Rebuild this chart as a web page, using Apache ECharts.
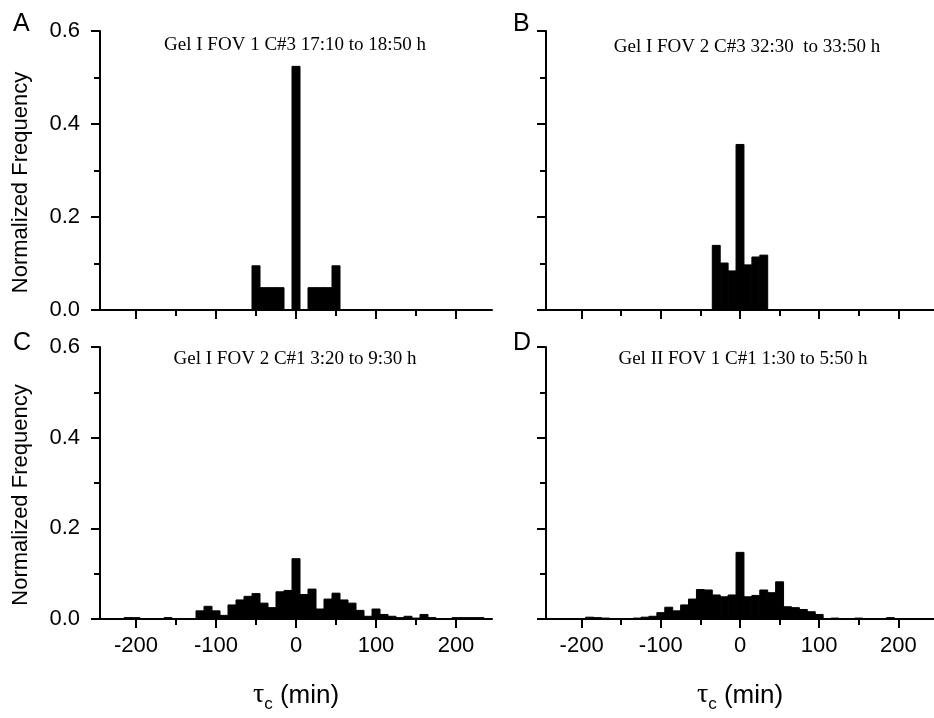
<!DOCTYPE html>
<html>
<head>
<meta charset="utf-8">
<script src="https://cdn.jsdelivr.net/npm/echarts@6/dist/echarts.min.js"></script>
<style>html,body{margin:0;padding:0;background:#fff}#chart{width:934px;height:718px}</style>
</head>
<body>
<div id="chart"></div>
<script>
// ---- data (bin centres in minutes, normalized frequency) ----
const aCenters = [-50, -40, -30, -20, 0, 20, 30, 40, 50];
const aValues  = [0.095, 0.048, 0.048, 0.048, 0.524, 0.048, 0.048, 0.048, 0.095];

const bCenters = [-30, -20, -10, 0, 10, 20, 30];
const bValues  = [0.139, 0.101, 0.084, 0.356, 0.097, 0.114, 0.118];

const cCenters = [-210, -200, -160, -120, -110, -100, -90, -80, -70, -60, -50, -40, -30, -20, -10, 0,
                  10, 20, 30, 40, 50, 60, 70, 80, 90, 100, 110, 120, 130, 140, 150, 160, 170, 200, 210, 220, 230];
const cValues  = [0.003, 0.003, 0.003, 0.018, 0.028, 0.018, 0.008, 0.031, 0.042, 0.050, 0.056, 0.035, 0.025, 0.060, 0.063, 0.133,
                  0.054, 0.066, 0.022, 0.044, 0.057, 0.042, 0.035, 0.019, 0.006, 0.022, 0.010, 0.006, 0.003, 0.006, 0.002, 0.010, 0.003, 0.003, 0.003, 0.003, 0.003];

const dCenters = [-190, -180, -170, -130, -120, -110, -100, -90, -80, -70, -60, -50, -40, -30, -20, -10, 0,
                  10, 20, 30, 40, 50, 60, 70, 80, 90, 100, 120, 150, 190];
const dValues  = [0.004, 0.003, 0.002, 0.002, 0.004, 0.006, 0.014, 0.026, 0.018, 0.031, 0.044, 0.065, 0.064, 0.053, 0.049, 0.053, 0.147,
                  0.049, 0.052, 0.064, 0.058, 0.082, 0.027, 0.025, 0.021, 0.016, 0.010, 0.002, 0.002, 0.003];

const binWidth = 10;
const xMajorTicks = [-200, -100, 0, 100, 200];
const xMinorTicks = [-150, -50, 50, 150];

const panelTitles = [
  'Gel I FOV 1 C#3 17:10 to 18:50 h',
  'Gel I FOV 2 C#3 32:30  to 33:50 h',
  'Gel I FOV 2 C#1 3:20 to 9:30 h',
  'Gel II FOV 1 C#1 1:30 to 5:50 h'
];
const panelLetters = ['A', 'B', 'C', 'D'];

// ---- layout ----
const SANS = "'Liberation Sans', Arial, sans-serif";
const SERIF = "'Liberation Serif', 'Times New Roman', serif";
const grids = [
  {left: 100, top: 31, width: 392, height: 279},
  {left: 546, top: 31, width: 392, height: 279},
  {left: 100, top: 347, width: 392, height: 272},
  {left: 546, top: 347, width: 392, height: 272}
];
const showYLabels = [true, false, true, false];
const showXLabels = [false, false, true, true];
const seriesData = [
  [aCenters, aValues], [bCenters, bValues], [cCenters, cValues], [dCenters, dValues]
];

const xAxes = [], yAxes = [], series = [];
grids.forEach((g, i) => {
  xAxes.push({
    gridIndex: i, type: 'value', min: -245, max: 245, position: 'bottom',
    axisLine: {show: true, onZero: false, lineStyle: {color: '#000', width: 2}},
    axisTick: {show: true, customValues: xMajorTicks, length: 9, inside: false, lineStyle: {color: '#000', width: 2}},
    axisLabel: {show: showXLabels[i], customValues: xMajorTicks, color: '#000', fontSize: 22, fontFamily: SANS, margin: 16},
    splitLine: {show: false},
    name: showXLabels[i] ? '{t|τ}{s|c}{m| (min)}' : '',
    nameLocation: 'middle', nameGap: 60,
    nameTextStyle: {
      color: '#000',
      rich: {
        t: {fontFamily: SERIF, fontSize: 28, color: '#000', verticalAlign: 'bottom', lineHeight: 30},
        s: {fontFamily: SANS, fontSize: 17, color: '#000', verticalAlign: 'bottom', lineHeight: 13, padding: [0, 0, -4, 0]},
        m: {fontFamily: SANS, fontSize: 26, color: '#000', verticalAlign: 'bottom', lineHeight: 30}
      }
    }
  });
  xAxes.push({
    gridIndex: i, type: 'value', min: -245, max: 245, position: 'bottom',
    axisLine: {show: false, onZero: false},
    axisTick: {show: true, customValues: xMinorTicks, length: 6, lineStyle: {color: '#000', width: 2}},
    axisLabel: {show: false},
    splitLine: {show: false}
  });
  yAxes.push({
    gridIndex: i, type: 'value', min: 0, max: 0.6, interval: 0.2,
    axisLine: {show: true, onZero: false, lineStyle: {color: '#000', width: 2}},
    axisTick: {show: true, length: 9, lineStyle: {color: '#000', width: 2}},
    minorTick: {show: true, splitNumber: 2, length: 6, lineStyle: {color: '#000', width: 2}},
    axisLabel: {show: showYLabels[i], color: '#000', fontSize: 22, fontFamily: SANS, margin: 20,
                formatter: v => v.toFixed(1)},
    splitLine: {show: false},
    minorSplitLine: {show: false},
    name: showYLabels[i] ? 'Normalized Frequency' : '',
    nameLocation: 'middle', nameGap: 68,
    nameTextStyle: {color: '#000', fontSize: 22, fontFamily: SANS, padding: [0, 24, 0, 0]}
  });
  const [cs, vs] = seriesData[i];
  series.push({
    type: 'custom',
    xAxisIndex: i * 2, yAxisIndex: i,
    data: cs.map((c, k) => [c, vs[k]]),
    encode: {x: 0, y: 1},
    renderItem: function (params, api) {
      const c = api.value(0), v = api.value(1);
      const p0 = api.coord([c - binWidth / 2, 0]);
      const p1 = api.coord([c + binWidth / 2, v]);
      return {
        type: 'rect',
        shape: {x: p0[0], y: p1[1], width: p1[0] - p0[0], height: p0[1] - p1[1]},
        style: {fill: '#000', stroke: '#000', lineWidth: 1}
      };
    },
    silent: true
  });
});

const titleCenters = [[290, 31], [742, 33], [290, 345], [738, 345]];
const letterPos = [[13, 12], [513, 12], [13, 331], [513, 331]];
const titles = [];
panelTitles.forEach((t, i) => {
  titles.push({
    text: t, left: titleCenters[i][0], top: titleCenters[i][1], textAlign: 'center',
    textStyle: {fontFamily: SERIF, fontSize: 19, fontWeight: 'normal', color: '#000'}
  });
});
panelLetters.forEach((t, i) => {
  titles.push({
    text: t, left: letterPos[i][0], top: letterPos[i][1], padding: 0,
    textStyle: {fontFamily: SANS, fontSize: 25, fontWeight: 'normal', color: '#000'}
  });
});

const chart = echarts.init(document.getElementById('chart'), null, {renderer: 'canvas'});
chart.setOption({
  backgroundColor: '#fff',
  animation: false,
  title: titles,
  grid: grids,
  xAxis: xAxes,
  yAxis: yAxes,
  series: series
});
</script>
</body>
</html>
